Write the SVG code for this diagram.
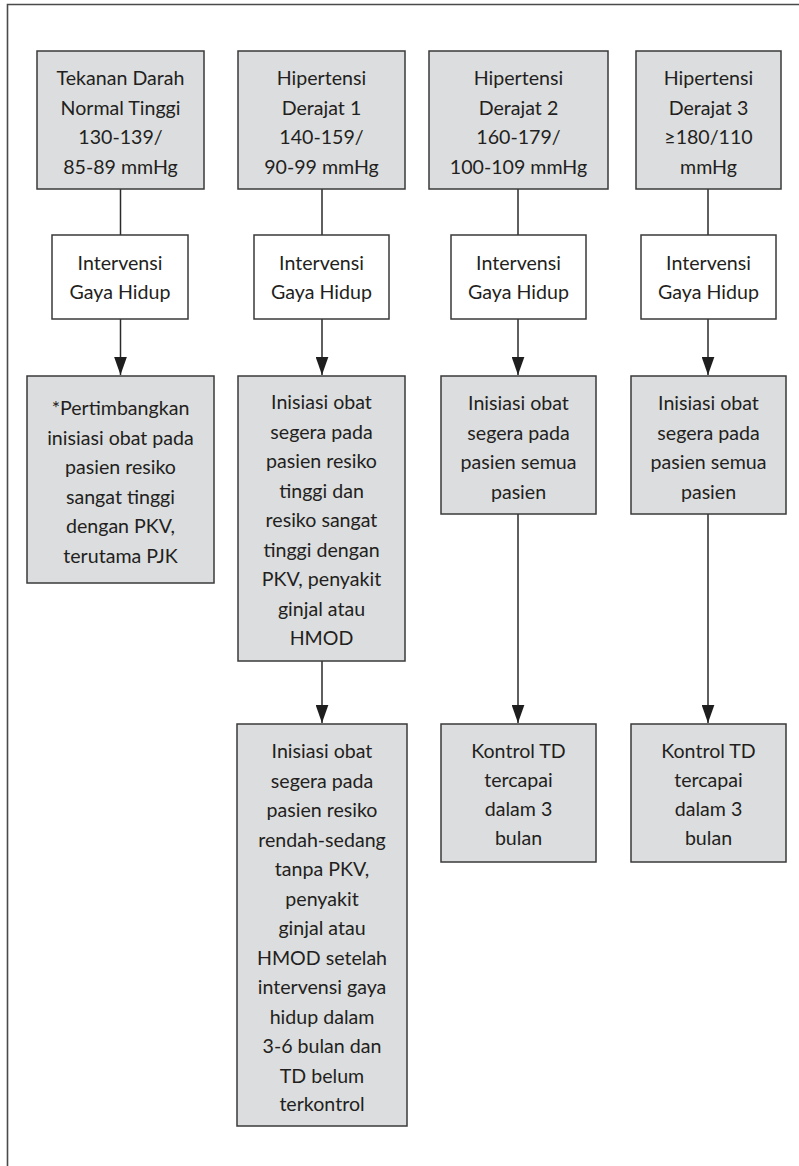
<svg xmlns="http://www.w3.org/2000/svg" width="799" height="1166" viewBox="0 0 799 1166">
  <style>
    .box { stroke: #3a3a3a; stroke-width: 1.5; }
    .grey { fill: #dcdddf; }
    .white { fill: #ffffff; }
    .t { font-family: Lato, "Liberation Sans", sans-serif; font-size: 19.6px; fill: #231f20; text-anchor: middle; }
    .wire { stroke: #2a2a2a; stroke-width: 1.5; fill: none; }
  </style>
  <defs>
    <marker id="arrow" markerUnits="userSpaceOnUse" markerWidth="18" markerHeight="13" refX="17" refY="6" orient="auto" viewBox="0 0 17 12">
      <path d="M0,0 L17,6 L0,12 Z" fill="#1e1e1e"/>
    </marker>
  </defs>
  <rect width="799" height="1166" fill="#ffffff"/>

  <!-- frame -->
  <g id="frame">
    <path d="M7.5,1166 V4.5 H799" fill="none" stroke="#4a4a4a" stroke-width="1.6"/>
  </g>

  <!-- connectors -->
  <g id="connectors" class="wire">
    <line x1="120.5" y1="189" x2="120.5" y2="235"/>
    <line x1="322" y1="189" x2="322" y2="235"/>
    <line x1="518" y1="189" x2="518" y2="235"/>
    <line x1="708" y1="189" x2="708" y2="235"/>
    <line x1="120.5" y1="319" x2="120.5" y2="375" marker-end="url(#arrow)"/>
    <line x1="322" y1="319" x2="322" y2="375" marker-end="url(#arrow)"/>
    <line x1="518" y1="319" x2="518" y2="375" marker-end="url(#arrow)"/>
    <line x1="708" y1="319" x2="708" y2="375" marker-end="url(#arrow)"/>
    <line x1="322" y1="661" x2="322" y2="723" marker-end="url(#arrow)"/>
    <line x1="518" y1="514" x2="518" y2="723" marker-end="url(#arrow)"/>
    <line x1="708" y1="514" x2="708" y2="723" marker-end="url(#arrow)"/>
  </g>

  <!-- row 1: blood pressure categories -->
  <g id="n-normal-tinggi">
    <rect class="box grey" x="37" y="51" width="167" height="138"/>
    <text class="t" x="120.5" y="85">Tekanan Darah</text>
    <text class="t" x="120.5" y="114.5">Normal Tinggi</text>
    <text class="t" x="120.5" y="144">130-139/</text>
    <text class="t" x="120.5" y="173.5">85-89 mmHg</text>
  </g>
  <g id="n-derajat1">
    <rect class="box grey" x="238" y="51" width="167" height="138"/>
    <text class="t" x="321.5" y="85">Hipertensi</text>
    <text class="t" x="321.5" y="114.5">Derajat 1</text>
    <text class="t" x="321.5" y="144">140-159/</text>
    <text class="t" x="321.5" y="173.5">90-99 mmHg</text>
  </g>
  <g id="n-derajat2">
    <rect class="box grey" x="429" y="51" width="179" height="138"/>
    <text class="t" x="518.5" y="85">Hipertensi</text>
    <text class="t" x="518.5" y="114.5">Derajat 2</text>
    <text class="t" x="518.5" y="144">160-179/</text>
    <text class="t" x="518.5" y="173.5">100-109 mmHg</text>
  </g>
  <g id="n-derajat3">
    <rect class="box grey" x="636" y="51" width="145" height="138"/>
    <text class="t" x="708.5" y="85">Hipertensi</text>
    <text class="t" x="708.5" y="114.5">Derajat 3</text>
    <text class="t" x="708.5" y="144">≥180/110</text>
    <text class="t" x="708.5" y="173.5">mmHg</text>
  </g>

  <!-- row 2: lifestyle intervention -->
  <g id="n-igh1">
    <rect class="box white" x="52" y="235" width="136" height="84"/>
    <text class="t" x="120" y="270">Intervensi</text>
    <text class="t" x="120" y="299">Gaya Hidup</text>
  </g>
  <g id="n-igh2">
    <rect class="box white" x="254" y="235" width="135" height="84"/>
    <text class="t" x="321.5" y="270">Intervensi</text>
    <text class="t" x="321.5" y="299">Gaya Hidup</text>
  </g>
  <g id="n-igh3">
    <rect class="box white" x="451" y="235" width="135" height="84"/>
    <text class="t" x="518.5" y="270">Intervensi</text>
    <text class="t" x="518.5" y="299">Gaya Hidup</text>
  </g>
  <g id="n-igh4">
    <rect class="box white" x="641" y="235" width="135" height="84"/>
    <text class="t" x="708.5" y="270">Intervensi</text>
    <text class="t" x="708.5" y="299">Gaya Hidup</text>
  </g>

  <!-- row 3: drug initiation -->
  <g id="n-pertimbangkan">
    <rect class="box grey" x="27" y="376" width="187" height="207"/>
    <text class="t" x="120.5" y="415">*Pertimbangkan</text>
    <text class="t" x="120.5" y="444.5">inisiasi obat pada</text>
    <text class="t" x="120.5" y="474">pasien resiko</text>
    <text class="t" x="120.5" y="503.5">sangat tinggi</text>
    <text class="t" x="120.5" y="533">dengan PKV,</text>
    <text class="t" x="120.5" y="562.5">terutama PJK</text>
  </g>
  <g id="n-inisiasi1">
    <rect class="box grey" x="238" y="376" width="167" height="285"/>
    <text class="t" x="321.5" y="409">Inisiasi obat</text>
    <text class="t" x="321.5" y="438.5">segera pada</text>
    <text class="t" x="321.5" y="468">pasien resiko</text>
    <text class="t" x="321.5" y="497.5">tinggi dan</text>
    <text class="t" x="321.5" y="527">resiko sangat</text>
    <text class="t" x="321.5" y="556.5">tinggi dengan</text>
    <text class="t" x="321.5" y="586">PKV, penyakit</text>
    <text class="t" x="321.5" y="615.5">ginjal atau</text>
    <text class="t" x="321.5" y="645">HMOD</text>
  </g>
  <g id="n-inisiasi2">
    <rect class="box grey" x="441" y="376" width="155" height="138"/>
    <text class="t" x="518.5" y="410">Inisiasi obat</text>
    <text class="t" x="518.5" y="439.5">segera pada</text>
    <text class="t" x="518.5" y="469">pasien semua</text>
    <text class="t" x="518.5" y="498.5">pasien</text>
  </g>
  <g id="n-inisiasi3">
    <rect class="box grey" x="631" y="376" width="155" height="138"/>
    <text class="t" x="708.5" y="410">Inisiasi obat</text>
    <text class="t" x="708.5" y="439.5">segera pada</text>
    <text class="t" x="708.5" y="469">pasien semua</text>
    <text class="t" x="708.5" y="498.5">pasien</text>
  </g>

  <!-- row 4 -->
  <g id="n-inisiasi-rendah">
    <rect class="box grey" x="237" y="724" width="170" height="402"/>
    <text class="t" x="322" y="758">Inisiasi obat</text>
    <text class="t" x="322" y="787.5">segera pada</text>
    <text class="t" x="322" y="817">pasien resiko</text>
    <text class="t" x="322" y="846.5">rendah-sedang</text>
    <text class="t" x="322" y="876">tanpa PKV,</text>
    <text class="t" x="322" y="905.5">penyakit</text>
    <text class="t" x="322" y="935">ginjal atau</text>
    <text class="t" x="322" y="964.5">HMOD setelah</text>
    <text class="t" x="322" y="994">intervensi gaya</text>
    <text class="t" x="322" y="1023.5">hidup dalam</text>
    <text class="t" x="322" y="1053">3-6 bulan dan</text>
    <text class="t" x="322" y="1082.5">TD belum</text>
    <text class="t" x="322" y="1111">terkontrol</text>
  </g>
  <g id="n-kontrol2">
    <rect class="box grey" x="441" y="724" width="155" height="138"/>
    <text class="t" x="518.5" y="758">Kontrol TD</text>
    <text class="t" x="518.5" y="787">tercapai</text>
    <text class="t" x="518.5" y="816">dalam 3</text>
    <text class="t" x="518.5" y="845">bulan</text>
  </g>
  <g id="n-kontrol3">
    <rect class="box grey" x="631" y="724" width="155" height="138"/>
    <text class="t" x="708.5" y="758">Kontrol TD</text>
    <text class="t" x="708.5" y="787">tercapai</text>
    <text class="t" x="708.5" y="816">dalam 3</text>
    <text class="t" x="708.5" y="845">bulan</text>
  </g>
</svg>
